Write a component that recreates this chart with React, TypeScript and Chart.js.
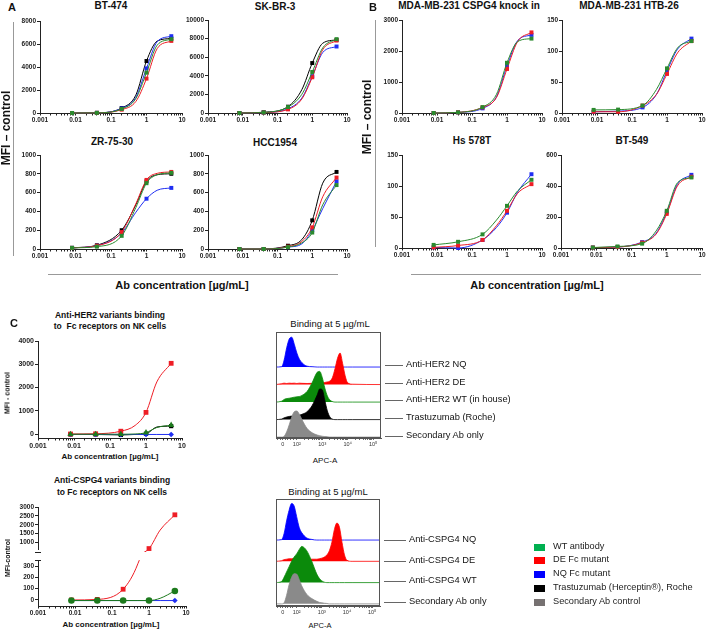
import React, { useEffect, useRef } from 'react';
import { Chart, registerables } from 'chart.js';

Chart.register(...registerables);

const FONT = 'Arial, "Liberation Sans", Helvetica, sans-serif';

// ---------- shared axes ----------
const FIT_X = [0.008, 0.04, 0.2, 0.5, 1, 2, 5];
const MEASURED_X = [0.008, 0.04, 0.2, 1, 5];
const X_MAJOR = [0.001, 0.01, 0.1, 1, 10];
const X_LABELS = ['0.001', '0.01', '0.1', '1', '10'];

// ---------- Panel A (HER2+ lines) ----------
const BT474_WT = [0, 10, 350, 1250, 3510, 5900, 6420];
const BT474_DE = [0, 10, 290, 1000, 2990, 5600, 6270];
const BT474_NQ = [0, 10, 400, 1350, 3880, 6200, 6680];
const BT474_TRAS = [0, 15, 430, 1550, 4520, 6250, 6480];

const SKBR3_WT = [0, 60, 640, 2000, 4410, 7000, 7940];
const SKBR3_DE = [0, 50, 390, 1500, 3840, 6800, 7790];
const SKBR3_NQ = [0, 50, 460, 1600, 3950, 6500, 7150];
const SKBR3_TRAS = [0, 80, 680, 2500, 5370, 7500, 7860];

const ZR7530_WT = [12, 25, 140, 440, 700, 790, 810];
const ZR7530_DE = [12, 35, 180, 480, 735, 805, 820];
const ZR7530_NQ = [12, 35, 170, 390, 535, 625, 650];
const ZR7530_TRAS = [12, 40, 200, 470, 720, 790, 800];

const HCC1954_WT = [0, 0, 20, 65, 175, 470, 680];
const HCC1954_DE = [0, 0, 25, 80, 230, 555, 760];
const HCC1954_NQ = [0, 0, 20, 55, 200, 430, 720];
const HCC1954_TRAS = [0, 0, 35, 100, 305, 700, 820];

// ---------- Panel B (CSPG4+ lines) ----------
const MDAKI_WT = [0, 20, 190, 600, 1620, 2300, 2400];
const MDAKI_DE = [0, 20, 180, 500, 1420, 2300, 2600];
const MDAKI_NQ = [0, 20, 150, 520, 1520, 2330, 2520];

const HTB26_WT = [5, 5.5, 12, 38, 72, 105, 116];
const HTB26_DE = [2, 2, 12, 30, 63, 97, 116];
const HTB26_NQ = [2, 3, 9, 30, 68, 103, 120];

const HS578T_WT = [5, 10, 22, 45, 68, 92, 110];
const HS578T_DE = [1, 4, 13, 36, 60, 88, 103];
const HS578T_NQ = [1, 0, 13, 33, 57, 90, 119];

const BT549_WT = [3, 10, 28, 110, 240, 420, 455];
const BT549_DE = [3, 6, 35, 90, 220, 400, 460];
const BT549_NQ = [3, 6, 38, 95, 230, 410, 472];

// ---------- Panel C (NK cells) ----------
const NK_HER2_DE = [0, 10, 120, 370, 930, 2240, 3040];
const NK_HER2_WT = [-10, -10, -10, 0, 60, 280, 380];
const NK_HER2_TRAS = [-20, -20, -40, -20, 10, 300, 340];
const NK_HER2_NQ = [-20, -20, -20, -20, -20, -20, -20];

const NK_CSPG4_DE = [0, 5, 95, 320, 660, 1700, 2560];
const NK_CSPG4_WT = [-5, -5, -5, -5, -5, 15, 80];
const NK_CSPG4_NQ = [-5, -5, -5, -5, -5, -5, -5];

// ---------- y ticks ----------
const Y_TICKS_8000 = [0, 2000, 4000, 6000, 8000];
const Y_TICKS_10000 = [0, 2000, 4000, 6000, 8000, 10000];
const Y_TICKS_1000 = [0, 200, 400, 600, 800, 1000];
const Y_TICKS_3000 = [0, 1000, 2000, 3000];
const Y_TICKS_150 = [0, 50, 100, 150];
const Y_TICKS_600 = [0, 200, 400, 600];
const Y_TICKS_4000 = [0, 1000, 2000, 3000, 4000];
const Y_TICKS_BREAK_TOP = [1000, 1500, 2000, 2500, 3000];
const Y_TICKS_BREAK_BOTTOM = [0, 100, 200, 300];

// ---------- flow histograms (APC-A, display decades) ----------
const HIST_X = [1.18, 1.4, 1.5, 1.6, 1.7, 1.8, 1.9, 2.0, 2.1, 2.2, 2.4, 2.6, 2.8, 2.9, 3.0, 3.1, 3.2, 3.3, 3.4, 3.5, 3.6, 3.7, 3.8, 3.9, 4.0, 4.2, 5.31];
const HIST_TICK_POS = [1.45, 2, 3, 4, 5];
const HIST_TICK_LABELS = ['0', '10²', '10³', '10⁴', '10⁵'];

const HER2_NQ_H = [0, 0.02, 0.4, 1.1, 1.6, 1.7, 1.3, 0.8, 0.45, 0.25, 0.05, 0.02, 0, 0, 0, 0, 0, 0, 0, 0, 0, 0, 0, 0, 0, 0, 0];
const HER2_DE_H = [0, 0.05, 0.08, 0.06, 0.08, 0.07, 0.08, 0.06, 0.08, 0.07, 0.06, 0.07, 0.08, 0.08, 0.1, 0.12, 0.15, 0.2, 0.4, 0.9, 1.5, 1.8, 1.2, 0.5, 0.1, 0.02, 0];
const HER2_WT_H = [0, 0.05, 0.15, 0.2, 0.22, 0.25, 0.28, 0.3, 0.32, 0.38, 0.6, 1.1, 1.7, 1.75, 1.4, 0.8, 0.35, 0.12, 0.03, 0, 0, 0, 0, 0, 0, 0, 0];
const HER2_TRAS_H = [0, 0.03, 0.1, 0.15, 0.18, 0.2, 0.2, 0.22, 0.25, 0.3, 0.45, 0.8, 1.4, 1.75, 1.7, 1.1, 0.5, 0.15, 0.03, 0, 0, 0, 0, 0, 0, 0, 0];
const HER2_SEC_H = [0, 0, 0.05, 0.3, 0.7, 1.15, 1.45, 1.49, 1.3, 1.0, 0.5, 0.25, 0.12, 0.08, 0.05, 0.03, 0.02, 0, 0, 0, 0, 0, 0, 0, 0, 0, 0];

const CSPG4_NQ_H = [0, 0.02, 0.3, 0.9, 1.4, 1.72, 1.6, 1.1, 0.6, 0.35, 0.1, 0.03, 0, 0, 0, 0, 0, 0, 0, 0, 0, 0, 0, 0, 0, 0, 0];
const CSPG4_DE_H = [0, 0.03, 0.08, 0.1, 0.12, 0.12, 0.14, 0.15, 0.15, 0.14, 0.12, 0.1, 0.1, 0.12, 0.15, 0.2, 0.3, 0.5, 0.9, 1.5, 1.8, 1.6, 0.9, 0.3, 0.05, 0, 0];
const CSPG4_WT_H = [0, 0.05, 0.25, 0.5, 0.75, 1.0, 1.2, 1.35, 1.55, 1.7, 1.5, 1.0, 0.4, 0.2, 0.08, 0.02, 0, 0, 0, 0, 0, 0, 0, 0, 0, 0, 0];
const CSPG4_SEC_H = [0, 0, 0.05, 0.4, 0.9, 1.25, 1.42, 1.4, 1.15, 0.85, 0.45, 0.25, 0.12, 0.07, 0.05, 0.03, 0.02, 0, 0, 0, 0, 0, 0, 0, 0, 0, 0];

// ---------- colours ----------
const C_WT = '#2a8a2e';
const C_DE = '#ee1d25';
const C_NQ = '#1f2ef2';
const C_TRAS = '#000000';
const C_WT_C = '#1d7a1d';
const H_NQ = '#0000ff';
const H_DE = '#ff0000';
const H_WT = '#0b8a0b';
const H_TRAS = '#000000';
const H_SEC = '#8a8a8a';

const LEGEND_LABELS = ['WT antibody', 'DE Fc mutant', 'NQ Fc mutant', 'Trastuzumab (Herceptin®), Roche', 'Secondary Ab control'];
const LEGEND_COLORS = ['#00b050', '#ff0000', '#0000ff', '#000000', '#767171'];

type Box = { l: number; t: number; r: number; b: number };
type Pad = { l: number; t: number; r: number; b: number };
type SeriesSpec = { values: number[]; color: string; shape?: string; r?: number };

function ChartCanvas({ box, pad, makeConfig }: { box: Box; pad: Pad; makeConfig: () => any }) {
  const ref = useRef<HTMLCanvasElement>(null);
  const width = box.r - box.l + pad.l + pad.r;
  const height = box.b - box.t + pad.t + pad.b;
  useEffect(() => {
    const chart = new Chart(ref.current as HTMLCanvasElement, makeConfig());
    return () => chart.destroy();
  }, []);
  return (
    <canvas
      ref={ref}
      width={width}
      height={height}
      style={{ position: 'absolute', left: box.l - pad.l, top: box.t - pad.t, width, height }}
    />
  );
}

function logTickCallback(v: number) {
  const i = X_MAJOR.findIndex((m) => Math.abs(Math.log10(m) - Math.log10(v)) < 1e-6);
  return i >= 0 ? X_LABELS[i] : '';
}

function buildLogTicks() {
  const t: { value: number }[] = [];
  X_MAJOR.forEach((m, i) => {
    t.push({ value: m });
    if (i < X_MAJOR.length - 1) for (let k = 2; k <= 9; k++) t.push({ value: m * k });
  });
  return t;
}

function DosePlot({
  box, yMin, yMax, yTicks, series, showX = true, tickSize = 6.5, clip,
}: {
  box: Box; yMin: number; yMax: number; yTicks: number[]; series: SeriesSpec[];
  showX?: boolean; tickSize?: number; clip?: any;
}) {
  const pad = { l: 32, t: 6, r: 10, b: showX ? 14 : 2 };
  const makeConfig = () => ({
    type: 'line',
    data: {
      datasets: series.map((s) => ({
        data: FIT_X.map((x, i) => ({ x, y: s.values[i] })),
        borderColor: s.color,
        backgroundColor: s.color,
        pointBackgroundColor: s.color,
        pointBorderColor: s.color,
        borderWidth: 1,
        pointStyle: s.shape || 'rect',
        pointRadius: FIT_X.map((x) => (MEASURED_X.includes(x) ? s.r || 2.8 : 0)),
        pointBorderWidth: 0,
        cubicInterpolationMode: 'monotone',
        fill: false,
        clip: clip !== undefined ? clip : 8,
      })),
    },
    options: {
      animation: false,
      responsive: false,
      events: [],
      layout: { padding: { left: 0, top: pad.t, right: pad.r, bottom: showX ? 0 : pad.b } },
      plugins: { legend: { display: false }, tooltip: { enabled: false } },
      scales: {
        x: {
          type: 'logarithmic',
          display: showX,
          min: 0.001,
          max: 10,
          afterBuildTicks: (s: any) => { s.ticks = buildLogTicks(); },
          afterFit: (s: any) => { s.height = pad.b; },
          ticks: {
            autoSkip: false, maxRotation: 0, padding: 1,
            font: { family: FONT, size: tickSize, weight: 'bold' }, color: '#222',
            callback: (v: number) => logTickCallback(v),
          },
          grid: { drawOnChartArea: false, drawTicks: true, tickLength: 2.5, tickColor: '#222', tickWidth: 1 },
          border: { display: true, color: '#222', width: 1 },
        },
        y: {
          type: 'linear',
          min: yMin,
          max: yMax,
          afterBuildTicks: (s: any) => { s.ticks = yTicks.map((v) => ({ value: v })); },
          afterFit: (s: any) => { s.width = pad.l; },
          ticks: {
            autoSkip: false, padding: 1,
            font: { family: FONT, size: tickSize, weight: 'bold' }, color: '#222',
            callback: (v: number) => String(v),
          },
          grid: { drawOnChartArea: false, drawTicks: true, tickLength: 3, tickColor: '#222', tickWidth: 1 },
          border: { display: true, color: '#222', width: 1 },
        },
      },
    },
  });
  return <ChartCanvas box={box} pad={pad} makeConfig={makeConfig} />;
}

const boxBorderPlugin = {
  id: 'boxBorder',
  afterDatasetsDraw(chart: any) {
    const { ctx, chartArea: a } = chart;
    ctx.save();
    ctx.strokeStyle = '#555';
    ctx.lineWidth = 1;
    ctx.strokeRect(Math.round(a.left) + 0.5, Math.round(a.top) + 0.5, Math.round(a.right - a.left) - 1, Math.round(a.bottom - a.top) - 1);
    ctx.restore();
  },
};

function HistPlot({ box, yMin, yMax, lanes }: {
  box: Box; yMin: number; yMax: number; lanes: { values: number[]; color: string; offset: number }[];
}) {
  const pad = { l: 2, t: 2, r: 6, b: 12 };
  const makeConfig = () => ({
    type: 'line',
    data: {
      datasets: lanes.map((l) => ({
        data: HIST_X.map((x, i) => ({ x, y: l.offset + l.values[i] })),
        borderColor: l.color,
        backgroundColor: l.color,
        borderWidth: 0.8,
        pointRadius: 0,
        cubicInterpolationMode: 'monotone',
        fill: { value: l.offset },
      })),
    },
    plugins: [boxBorderPlugin],
    options: {
      animation: false,
      responsive: false,
      events: [],
      layout: { padding: { left: pad.l, top: pad.t, right: pad.r, bottom: 0 } },
      plugins: { legend: { display: false }, tooltip: { enabled: false } },
      scales: {
        x: {
          type: 'linear',
          min: 1.18,
          max: 5.31,
          afterBuildTicks: (s: any) => {
            const t: { value: number }[] = HIST_TICK_POS.map((v) => ({ value: v }));
            for (let n = 2; n <= 4; n++) for (let k = 2; k <= 9; k++) t.push({ value: n + Math.log10(k) });
            t.push({ value: 1.25 }, { value: 1.35 }, { value: 1.55 }, { value: 1.65 }, { value: 1.75 }, { value: 1.85 });
            s.ticks = t;
          },
          afterFit: (s: any) => { s.height = pad.b; },
          ticks: {
            autoSkip: false, maxRotation: 0, padding: 1,
            font: { family: FONT, size: 5.5 }, color: '#333',
            callback: (v: number) => {
              const i = HIST_TICK_POS.findIndex((p) => Math.abs(p - v) < 1e-6);
              return i >= 0 ? HIST_TICK_LABELS[i] : '';
            },
          },
          grid: { drawOnChartArea: false, drawTicks: true, tickLength: 2, tickColor: '#444', tickWidth: 0.8 },
          border: { display: true, color: '#555', width: 1 },
        },
        y: { type: 'linear', display: false, min: yMin, max: yMax },
      },
    },
  });
  return <ChartCanvas box={box} pad={pad} makeConfig={makeConfig} />;
}

function T({ x, y, children, size = 9, bold = false, anchor = 'middle', rotate = false, color = '#111' }: any) {
  let transform = anchor === 'middle' ? 'translate(-50%,-50%)' : 'translate(0,-50%)';
  if (rotate) transform = 'translate(-50%,-50%) rotate(-90deg)';
  return (
    <div
      style={{
        position: 'absolute', left: x, top: y, transform, fontSize: size, fontWeight: bold ? 700 : 400,
        fontFamily: FONT, whiteSpace: 'pre', lineHeight: 1, color,
      }}
    >
      {children}
    </div>
  );
}

function Line({ x, y, w, h, color = '#888' }: any) {
  return <div style={{ position: 'absolute', left: x, top: y, width: w, height: h, background: color }} />;
}

const seriesA = (wt: number[], de: number[], nq: number[], tras?: number[]): SeriesSpec[] => {
  const s: SeriesSpec[] = [
    { values: wt, color: C_WT },
    { values: de, color: C_DE },
    { values: nq, color: C_NQ },
  ];
  if (tras) s.push({ values: tras, color: C_TRAS });
  return s;
};

export default function App() {
  const her2Lanes = ['Anti-HER2 NQ', 'Anti-HER2 DE', 'Anti-HER2 WT (in house)', 'Trastuzumab (Roche)', 'Secondary Ab only'];
  const her2LaneY = [365, 383, 400, 418, 436];
  const cspg4Lanes = ['Anti-CSPG4 NQ', 'Anti-CSPG4 DE', 'Anti-CSPG4 WT', 'Secondary Ab only'];
  const cspg4LaneY = [540, 561, 581, 602];
  const legendY = [547, 560, 574, 588, 602];
  return (
    <div style={{ position: 'fixed', left: 0, top: 0, width: 708, height: 631, background: '#fff', overflow: 'hidden' }}>
      {/* Panel A */}
      <T x={12} y={7} size={11} bold>A</T>
      <T x={111} y={6} size={10} bold>BT-474</T>
      <T x={275} y={7} size={10} bold>SK-BR-3</T>
      <T x={112} y={142} size={10} bold>ZR-75-30</T>
      <T x={275} y={143} size={10} bold>HCC1954</T>
      <DosePlot box={{ l: 40, t: 21, r: 182, b: 113 }} yMin={0} yMax={8000} yTicks={Y_TICKS_8000}
        series={seriesA(BT474_WT, BT474_DE, BT474_NQ, BT474_TRAS)} />
      <DosePlot box={{ l: 208, t: 20, r: 347, b: 113 }} yMin={0} yMax={10000} yTicks={Y_TICKS_10000}
        series={seriesA(SKBR3_WT, SKBR3_DE, SKBR3_NQ, SKBR3_TRAS)} />
      <DosePlot box={{ l: 40, t: 155, r: 182, b: 249 }} yMin={0} yMax={1000} yTicks={Y_TICKS_1000}
        series={seriesA(ZR7530_WT, ZR7530_DE, ZR7530_NQ, ZR7530_TRAS)} />
      <DosePlot box={{ l: 208, t: 155, r: 347, b: 249 }} yMin={0} yMax={1000} yTicks={Y_TICKS_1000}
        series={seriesA(HCC1954_WT, HCC1954_DE, HCC1954_NQ, HCC1954_TRAS)} />
      <T x={6} y={128} size={12} bold rotate>MFI – control</T>
      <Line x={13} y={22} w={1} h={234} color="#999" />
      <Line x={48} y={274} w={290} h={1} color="#999" />
      <T x={182} y={285} size={11} bold>Ab concentration [µg/mL]</T>

      {/* Panel B */}
      <T x={373} y={7} size={11} bold>B</T>
      <T x={469} y={6} size={10} bold>MDA-MB-231 CSPG4 knock in</T>
      <T x={629} y={6} size={10} bold>MDA-MB-231 HTB-26</T>
      <T x={472} y={141} size={10} bold>Hs 578T</T>
      <T x={632} y={141} size={10} bold>BT-549</T>
      <DosePlot box={{ l: 402, t: 20, r: 542, b: 113 }} yMin={0} yMax={3000} yTicks={Y_TICKS_3000}
        series={seriesA(MDAKI_WT, MDAKI_DE, MDAKI_NQ)} />
      <DosePlot box={{ l: 562, t: 20, r: 702, b: 113 }} yMin={0} yMax={150} yTicks={Y_TICKS_150}
        series={seriesA(HTB26_WT, HTB26_DE, HTB26_NQ)} />
      <DosePlot box={{ l: 402, t: 155, r: 542, b: 248 }} yMin={0} yMax={150} yTicks={Y_TICKS_150}
        series={seriesA(HS578T_WT, HS578T_DE, HS578T_NQ)} />
      <DosePlot box={{ l: 561, t: 155, r: 702, b: 248 }} yMin={0} yMax={600} yTicks={Y_TICKS_600}
        series={seriesA(BT549_WT, BT549_DE, BT549_NQ)} />
      <T x={367} y={117} size={12} bold rotate>MFI – control</T>
      <Line x={375} y={20} w={1} h={227} color="#999" />
      <Line x={411} y={274} w={290} h={1} color="#999" />
      <T x={537} y={285} size={11} bold>Ab concentration [µg/mL]</T>

      {/* Panel C - HER2 */}
      <T x={14} y={323} size={11} bold>C</T>
      <T x={110} y={315} size={8.5} bold>Anti-HER2 variants binding</T>
      <T x={110} y={326} size={8.5} bold>to  Fc receptors on NK cells</T>
      <DosePlot box={{ l: 38, t: 341, r: 182, b: 438 }} yMin={-172} yMax={4000} yTicks={Y_TICKS_4000} tickSize={7}
        series={[
          { values: NK_HER2_WT, color: C_WT_C, shape: 'triangle', r: 3.6 },
          { values: NK_HER2_DE, color: C_DE, shape: 'rect', r: 3.4 },
          { values: NK_HER2_NQ, color: C_NQ, shape: 'rectRot', r: 2.8 },
          { values: NK_HER2_TRAS, color: C_TRAS, shape: 'rect', r: 3 },
        ]} />
      <T x={7} y={393} size={7} bold rotate>MFI - control</T>
      <T x={110} y={457} size={8} bold>Ab concentration [µg/mL]</T>

      {/* Panel C - HER2 histograms */}
      <T x={330} y={324} size={9.5}>Binding at 5 µg/mL</T>
      <HistPlot box={{ l: 276, t: 332, r: 381, b: 438 }} yMin={-0.05} yMax={6.0}
        lanes={[
          { values: HER2_SEC_H, color: H_SEC, offset: 0 },
          { values: HER2_TRAS_H, color: H_TRAS, offset: 1 },
          { values: HER2_WT_H, color: H_WT, offset: 2 },
          { values: HER2_DE_H, color: H_DE, offset: 3 },
          { values: HER2_NQ_H, color: H_NQ, offset: 4 },
        ]} />
      <T x={325} y={461} size={8}>APC-A</T>
      {her2Lanes.map((s, i) => (
        <React.Fragment key={s}>
          <Line x={385} y={her2LaneY[i]} w={18} h={1} color="#666" />
          <T x={406} y={her2LaneY[i]} size={9.3} anchor="start">{s}</T>
        </React.Fragment>
      ))}

      {/* Panel C - CSPG4 */}
      <T x={112} y={480} size={8.5} bold>Anti-CSPG4 variants binding</T>
      <T x={112} y={492} size={8.5} bold>to Fc receptors on NK cells</T>
      <DosePlot box={{ l: 38, t: 507, r: 186, b: 552 }} yMin={630} yMax={3000} yTicks={Y_TICKS_BREAK_TOP} tickSize={6.5}
        showX={false} clip={{ left: 6, right: 6, top: 6, bottom: 3 }}
        series={[
          { values: NK_CSPG4_WT, color: C_WT_C, shape: 'circle', r: 3.3 },
          { values: NK_CSPG4_NQ, color: C_NQ, shape: 'rectRot', r: 2.8 },
          { values: NK_CSPG4_DE, color: C_DE, shape: 'rect', r: 3.4 },
        ]} />
      <DosePlot box={{ l: 38, t: 560, r: 186, b: 606 }} yMin={-53} yMax={353} yTicks={Y_TICKS_BREAK_BOTTOM} tickSize={6.5}
        clip={{ left: 6, right: 6, top: 0, bottom: 6 }}
        series={[
          { values: NK_CSPG4_WT, color: C_WT_C, shape: 'circle', r: 3.3 },
          { values: NK_CSPG4_NQ, color: C_NQ, shape: 'rectRot', r: 2.8 },
          { values: NK_CSPG4_DE, color: C_DE, shape: 'rect', r: 3.4 },
        ]} />
      <Line x={35} y={552} w={6} h={1} color="#222" />
      <Line x={35} y={560} w={6} h={1} color="#222" />
      <T x={7} y={558} size={7} bold rotate>MFI-control</T>
      <T x={111} y={625} size={8} bold>Ab concentration [µg/mL]</T>

      {/* Panel C - CSPG4 histograms */}
      <T x={328} y={492} size={9.5}>Binding at 5 µg/mL</T>
      <HistPlot box={{ l: 276, t: 499, r: 380, b: 606 }} yMin={-0.1} yMax={4.93}
        lanes={[
          { values: CSPG4_SEC_H, color: H_SEC, offset: 0 },
          { values: CSPG4_WT_H, color: H_WT, offset: 1 },
          { values: CSPG4_DE_H, color: H_DE, offset: 2 },
          { values: CSPG4_NQ_H, color: H_NQ, offset: 3 },
        ]} />
      <T x={320} y={626} size={7.5}>APC-A</T>
      {cspg4Lanes.map((s, i) => (
        <React.Fragment key={s}>
          <Line x={384} y={cspg4LaneY[i]} w={22} h={1} color="#666" />
          <T x={409} y={cspg4LaneY[i]} size={9.3} anchor="start">{s}</T>
        </React.Fragment>
      ))}

      {/* Legend */}
      {LEGEND_LABELS.map((s, i) => (
        <React.Fragment key={s}>
          <div style={{ position: 'absolute', left: 534, top: legendY[i] - 3.5, width: 11, height: 7, background: LEGEND_COLORS[i] }} />
          <T x={553} y={legendY[i]} size={9.2} anchor="start" color="#222">{s}</T>
        </React.Fragment>
      ))}
    </div>
  );
}
